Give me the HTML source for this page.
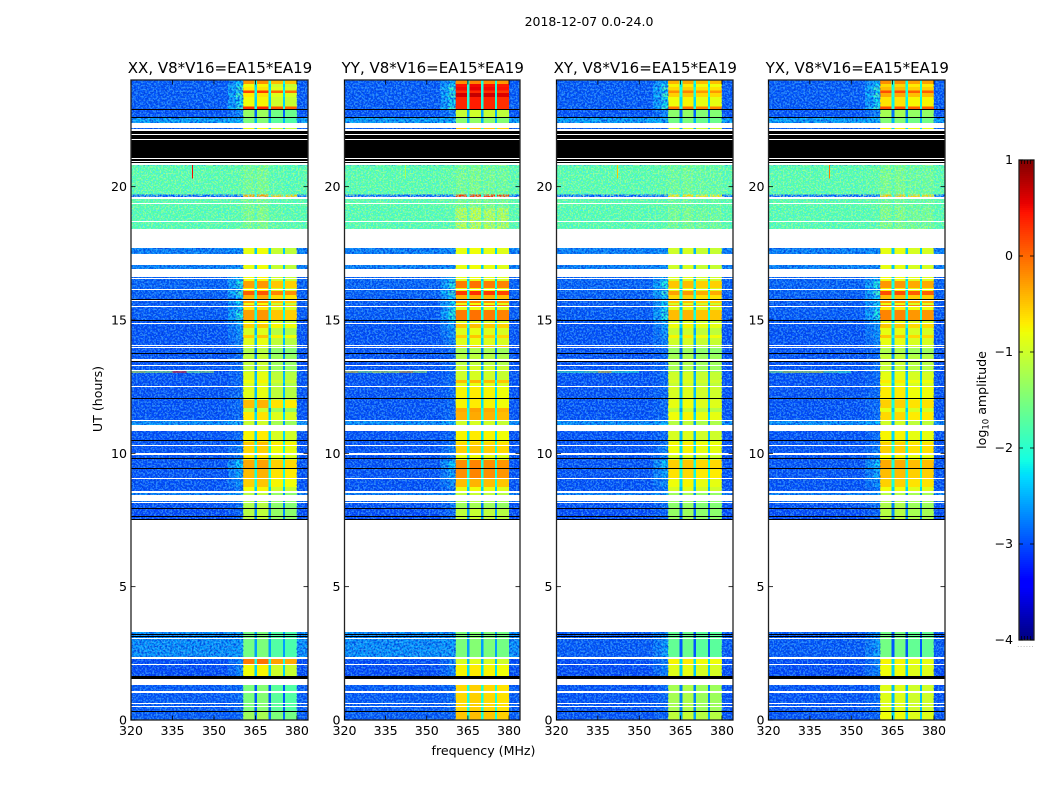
<!DOCTYPE html>
<html lang="en">
<head>
<meta charset="utf-8">
<title>2018-12-07 0.0-24.0</title>
<style>
html,body{margin:0;padding:0;background:#fff;width:1050px;height:800px;overflow:hidden}
svg{display:block;font-family:"DejaVu Sans","Liberation Sans",sans-serif;fill:#000}
</style>
</head>
<body>
<svg id="chart" xmlns="http://www.w3.org/2000/svg" width="1050" height="800" viewBox="0 0 1050 800">
  <defs>
    <filter id="grain" x="0" y="0" width="100%" height="100%">
      <feTurbulence type="fractalNoise" baseFrequency="0.5" numOctaves="2" seed="7"/>
      <feColorMatrix type="matrix" values="0 0 0 0 0  0 0 0 0 0.05  0 0 0 0 0.72  5 0 0 0 -2.1"/>
    </filter>
    <filter id="grain2" x="0" y="0" width="100%" height="100%">
      <feTurbulence type="fractalNoise" baseFrequency="0.55" numOctaves="2" seed="23"/>
      <feColorMatrix type="matrix" values="0 0 0 0 0.1  0 0 0 0 0.6  0 0 0 0 1  0 6 0 0 -2.8"/>
    </filter>
    <filter id="grain3" x="0" y="0" width="100%" height="100%">
      <feTurbulence type="fractalNoise" baseFrequency="0.6" numOctaves="2" seed="41"/>
      <feColorMatrix type="matrix" values="0 0 0 0 0.05  0 0 0 0 0.8  0 0 0 0 1  0 0 6 0 -2.8"/>
    </filter>
    <filter id="grain4" x="0" y="0" width="100%" height="100%">
      <feTurbulence type="fractalNoise" baseFrequency="0.6" numOctaves="2" seed="59"/>
      <feColorMatrix type="matrix" values="0 0 0 0 0.6  0 0 0 0 1  0 0 0 0 0.25  6 0 0 0 -2.9"/>
    </filter>
  </defs>
  <text x="589" y="26" font-size="12.5" text-anchor="middle">2018-12-07 0.0-24.0</text>
  <g id="panels"></g>
  <text x="483.500" y="755" font-size="12.6" text-anchor="middle">frequency (MHz)</text>
  <text x="0" y="0" font-size="12.6" text-anchor="middle" transform="translate(102,399) rotate(-90)">UT (hours)</text>
  <g id="colorbar"></g>
  <text x="0" y="0" font-size="12.6" text-anchor="middle" transform="translate(986,400) rotate(-90)">log<tspan font-size="8.500" dy="2.500">10</tspan><tspan dy="-2.500"> amplitude</tspan></text>
</svg>
<script>
// ---- axis labels ----
const panelTitles = ['XX, V8*V16=EA15*EA19', 'YY, V8*V16=EA15*EA19', 'XY, V8*V16=EA15*EA19', 'YX, V8*V16=EA15*EA19'];
const freqTicks = [320, 335, 350, 365, 380];
const hourTicks = [0, 5, 10, 15, 20];
const colorbarTicks = [1, 0, -1, -2, -3, -4];

// ---- frequency bins (MHz) ----
const binStart = [320, 355, 358, 360.5, 364.6, 365.6, 369.7, 370.6, 374.9, 375.7, 380];
const binEnd   = [355, 358, 360.5, 364.6, 365.6, 369.7, 370.6, 374.9, 375.7, 380, 384];

// ---- time rows (UT hours) ----
const rowStart = [0,0.3,1.31,1.65,2.08,2.36, 7.54,7.91,8.2,8.51,8.74, 9.04,9.41,9.75,9.94,10.27, 10.42,10.87,11.21,11.55,11.7, 12,12.49,12.64,12.75,13.05, 13.31,13.69,13.95,14.06,14.32, 14.44,14.7,14.89,15,15.37, 15.49,15.56,15.64,15.75,15.94, 16.09,16.2,16.46,16.61, 18.41,19.2,19.6,19.7, 22.1,22.38,22.57,22.87,23, 23.36,23.51,23.6,23.73,23.85];
const rowEnd   = [0.3,1.31,1.65,2.08,2.36,3.3, 7.91,8.2,8.51,8.74,9.04, 9.41,9.75,9.94,10.27,10.42, 10.87,11.21,11.55,11.7,12, 12.49,12.64,12.75,13.05,13.31, 13.69,13.95,14.06,14.32,14.44, 14.7,14.89,15,15.37,15.49, 15.56,15.64,15.75,15.94,16.09, 16.2,16.46,16.61,17.7, 19.2,19.6,19.7,20.81, 22.2,22.57,22.87,23,23.36, 23.51,23.6,23.73,23.85,24];

// ---- log10 amplitude per time row ----
const parallelBackground = [-2.95,-2.95,-2.95,-3.05,-3.05,-2.6, -3.05,-3,-2.7,-3,-3, -3,-3,-3,-3,-3, -3,-2.6,-3,-3,-3, -3,-3,-3,-3,-3, -3,-3,-3,-3,-3, -3,-3,-3,-2.95,-2.95, -2.95,-2.95,-2.95,-2.95,-2.9, -2.9,-2.9,-2.9,-2.7, -1.78,-1.75,-3,-1.75, -2.95,-2.5,-3,-2.95,-2.95, -2.95,-2.95,-2.95,-2.95,-2.95];
const crossBackground    = [-3,-3,-3,-3.05,-3.05,-2.95, -3.05,-3,-2.7,-3,-3, -3,-3,-3,-3,-3, -3,-2.6,-3,-3,-3, -3,-3,-3,-3,-3, -3,-3,-3,-3,-3, -3,-3,-3,-2.95,-2.95, -2.95,-2.95,-2.95,-2.95,-2.9, -2.9,-2.9,-2.9,-2.7, -1.78,-1.75,-3,-1.75, -2.95,-2.5,-3,-2.95,-2.95, -2.95,-2.95,-2.95,-2.95,-2.95];
const panelBackground = [parallelBackground, parallelBackground, crossBackground, crossBackground];
const edgeLevel = [-2.9,-2.85,-2.7,-2.7,-2.7,-2.55, -2.9,-2.8,-2.5,-2.8,-2.6, -2.5,-2.3,-2.7,-2.7,-2.8, -2.85,-2.4,-2.85,-2.85,-2.85, -2.85,-2.85,-2.85,-2.85,-2.8, -2.85,-2.85,-2.7,-2.7,-2.6, -2.6,-2.5,-2.5,-2.1,-2.3, -2.1,-2.3,-2.2,-2.3,-1.9, -2.4,-2.1,-2.4,-2.6, -1.75,-1.7,-3,-1.7, -2.9,-2.4,-2.7,-1.95,-2.2, -1.9,-2.3,-1.9,-2.2,-2.4];
const xxLevel = [-1.35,-1.55,-1.4,-0.85,-0.15,-1.6, -1.2,-1.25,-1.2,-0.85,-0.6, -0.5,-0.4,-0.75,-0.65,-0.55, -0.8,-1.1,-0.75,-1.15,-0.5, -0.95,-1,-0.85,-0.95,-1.15, -1.15,-1.25,-1,-0.95,-0.6, -1,-0.6,-0.9,-0.35,-0.75, -0.3,-0.9,-0.35,-0.45,0, -0.8,-0.35,-0.85,-0.9, -1.55,-1.6,-0.3,-1.6, -0.9,-1.55,-1.4,0.25,-0.85, -0.75,0.15,-0.75,-0.85,-0.3];
const yyLevel = [-0.5,-0.6,-0.6,-0.75,-0.95,-1.5, -1.1,-1.3,-1.1,-0.85,-0.45, -0.2,-0.2,-0.85,-0.55,-0.6, -0.75,-1,-0.4,-0.35,-0.75, -0.75,-0.9,-0.45,-1,-1, -1.15,-1.25,-0.45,-0.9,-0.55, -0.9,-0.5,-0.95,-0.1,-0.85, 0,-0.85,-0.2,-0.4,0.25, -0.85,-0.1,-0.9,-0.85, -1.1,-1.5,0.3,-1.55, -0.5,-1.4,-1.05,0.35,0.35, 0.65,0.3,0.5,0.45,-0.2];
const xyLevel = [-1.1,-1.25,-1.2,-0.9,-0.75,-1.65, -1.35,-1.4,-1.3,-0.95,-0.8, -0.65,-0.55,-0.95,-0.8,-0.75, -0.95,-1.15,-0.8,-1.1,-0.85, -0.95,-1.05,-0.95,-1,-1.25, -1.25,-1.35,-1.1,-1,-0.75, -1.05,-0.8,-1,-0.45,-0.9, -0.4,-1,-0.5,-0.6,-0.3, -0.9,-0.5,-0.95,-1, -1.55,-1.65,-0.6,-1.6, -1,-1.55,-1.4,-0.1,-0.8, -0.55,-0.2,-0.6,-0.75,-0.4];
const yxLevel = [-0.85,-0.95,-0.9,-0.85,-0.8,-1.6, -1.2,-1.25,-1.2,-0.85,-0.6, -0.5,-0.4,-0.8,-0.6,-0.6, -0.8,-1.05,-0.65,-0.9,-0.6, -0.75,-0.9,-0.75,-0.9,-1.1, -1.1,-1.25,-0.95,-0.9,-0.55, -0.9,-0.55,-0.9,-0.2,-0.75, -0.1,-0.9,-0.3,-0.5,0.1, -0.8,-0.3,-0.85,-0.9, -1.5,-1.6,-0.5,-1.55, -0.8,-1.5,-1.3,0.1,-0.7, -0.4,0.1,-0.5,-0.65,-0.25];
const panelLevels = [xxLevel, yyLevel, xyLevel, yxLevel];

// ---- spectral-window offsets relative to the row level ----
const xxWindowOffset = [0.05, 0.1, -0.15, -0.2];
const yyWindowOffset = [0, 0.05, 0, -0.05];
const xyWindowOffset = [0, 0.05, -0.05, -0.05];
const yxWindowOffset = [0.05, 0.05, -0.05, -0.05];
const windowOffsets = [xxWindowOffset, yyWindowOffset, xyWindowOffset, yxWindowOffset];
const gapDrop = 1.5;
const gapCeiling = -2.1;

// ---- flagged time ranges (UT hours) ----
const whiteStart = [0.49, 0.6, 1.03, 1.31, 2.06, 2.29, 3.02, 3.3, 8.12, 8.21, 8.53, 9.02, 9.95, 10.29, 10.84, 11.2, 12.5, 13.07, 13.28, 13.48, 13.95, 14.04, 14.87, 15.47, 15.71, 16.14, 16.52, 16.61, 17.06, 17.7, 18.68, 19.37, 19.53, 20.81, 20.92, 21.03, 21.75, 21.93, 22.08, 22.2];
const whiteEnd   = [0.53, 0.64, 1.07, 1.54, 2.1, 2.36, 3.06, 7.54, 8.16, 8.44, 8.57, 9.06, 10, 10.33, 11.08, 11.24, 12.54, 13.11, 13.32, 13.52, 13.99, 14.08, 14.9, 15.51, 15.74, 16.18, 16.56, 16.91, 17.47, 18.41, 18.72, 19.4, 19.6, 20.89, 20.98, 21.07, 21.79, 21.97, 22.16, 22.38];
const blackStart = [0.29, 1.54, 3.1, 3.17, 7.5, 7.6, 7.9, 9.4, 9.78, 10.45, 12.03, 13.41, 13.71, 14.95, 15.74, 20.89, 20.98, 21.07, 21.79, 21.97, 22.56, 22.86];
const blackEnd   = [0.33, 1.65, 3.14, 3.21, 7.55, 7.64, 7.94, 9.44, 9.82, 10.49, 12.07, 13.46, 13.75, 14.99, 15.78, 20.92, 21.03, 21.75, 21.93, 22.08, 22.6, 22.9];

// ---- interference features ----
const rfiHour = 13.05;
const rfiFreq = [320, 325, 330, 335, 340, 345];
const xxRfi = [-0.9, -1.3, -1.2, 0.4, -1.5, -1.2];
const yyRfi = [-0.6, -1.3, -0.9, -1, -0.4, -1.2];
const xyRfi = [-1.8, -1.9, -1.6, -0.6, -1.9, -2];
const yxRfi = [-1.4, -0.9, -1, -0.8, -1.6, -1.9];
const panelRfi = [xxRfi, yyRfi, xyRfi, yxRfi];
const streakFreq = 342;
const streakStart = [20.3, 20.3, 20.3, 20.3];
const streakEnd = [20.81, 20.81, 20.81, 20.81];
const streakLevel = [0.5, -1.2, -0.5, -0.1];

// ---- layout (axes boxes, no data) ----
const panelLeft = [131, 344.5, 556.5, 768.5];
const panelWidth = [177, 175.5, 176.5, 176.5];
const plotTop = 80, plotBottom = 720;
const freqMin = 320, freqMax = 384, hourMin = 0, hourMax = 24;
const cbLeft = 1019, cbRight = 1034, cbTop = 160, cbBottom = 640, cbMin = -4, cbMax = 1;

const NS = 'http://www.w3.org/2000/svg';
function xScale(p, f) { return panelLeft[p] + (f - freqMin) / (freqMax - freqMin) * panelWidth[p]; }
function yScale(h) { return plotBottom - (h - hourMin) / (hourMax - hourMin) * (plotBottom - plotTop); }
function cbScale(v) { return cbBottom - (v - cbMin) / (cbMax - cbMin) * (cbBottom - cbTop); }

function clamp01(x) { return Math.max(0, Math.min(1, x)); }
function lerpStops(t, xs, ys) {
  for (let i = 1; i < xs.length; i++) {
    if (t <= xs[i]) return ys[i - 1] + (ys[i] - ys[i - 1]) * (t - xs[i - 1]) / (xs[i] - xs[i - 1]);
  }
  return ys[ys.length - 1];
}
function jet(v) {
  const t = clamp01((v - cbMin) / (cbMax - cbMin));
  const r = lerpStops(t, [0, 0.35, 0.66, 0.89, 1], [0, 0, 1, 1, 0.5]);
  const g = lerpStops(t, [0, 0.125, 0.375, 0.64, 0.91, 1], [0, 0, 1, 1, 0, 0]);
  const b = lerpStops(t, [0, 0.11, 0.34, 0.65, 1], [0.5, 1, 1, 0, 0]);
  return 'rgb(' + Math.round(r * 255) + ',' + Math.round(g * 255) + ',' + Math.round(b * 255) + ')';
}
function make(tag, parent, attrs, text) {
  const el = document.createElementNS(NS, tag);
  for (const k in attrs) el.setAttribute(k, attrs[k]);
  if (text !== undefined) el.textContent = text;
  parent.appendChild(el);
  return el;
}

const panelsRoot = document.getElementById('panels');
const channelBins = [3, 5, 7, 9];
const gapBins = [4, 6, 8];

panelTitles.forEach(function (title, p) {
  const panel = make('g', panelsRoot, {});
  
  

  const clipId = 'clip' + p;
  const defs = make('clipPath', panel, { id: clipId });
  make('rect', defs, { x: panelLeft[p], y: plotTop, width: panelWidth[p], height: plotBottom - plotTop });

  const cells = make('g', panel, { 'clip-path': 'url(#' + clipId + ')', 'shape-rendering': 'crispEdges' });
  
  

  rowStart.forEach(function (start, r) {
    binStart.forEach(function (f0, b) {
      let value;
      const level = panelLevels[p][r];
      const bg = panelBackground[p][r];
      const chan = channelBins.indexOf(b);
      if (chan >= 0) value = level + windowOffsets[p][chan];
      else if (gapBins.indexOf(b) >= 0) value = Math.max(bg, Math.min(gapCeiling, level - gapDrop));
      else if (b === 1) value = (bg + edgeLevel[r]) / 2;
      else if (b === 2) value = edgeLevel[r];
      else value = bg;
      const x0 = xScale(p, f0), x1 = xScale(p, binEnd[b]);
      const y0 = yScale(rowEnd[r]), y1 = yScale(start);
      const cell = make('rect', cells, { x: x0, y: y0, width: x1 - x0, height: y1 - y0, fill: jet(value) });
      
      
    });
  });

  // fine grain texture (decorative speckle over background regions only)
  const textureLayer = make('g', panel, { 'clip-path': 'url(#' + clipId + ')' });
  
  
  function speckle(f0, f1, h0, h1, filterId, opacity) {
    const r = make('rect', textureLayer, { x: xScale(p, f0), y: yScale(h1), width: xScale(p, f1) - xScale(p, f0), height: yScale(h0) - yScale(h1), filter: 'url(#' + filterId + ')', opacity: opacity });
    
    
  }
  [[0, 18.41], [20.81, 24]].forEach(function (span) {
    speckle(freqMin, 360.5, span[0], span[1], 'grain', 0.85);
    speckle(freqMin, 360.5, span[0], span[1], 'grain2', 0.5);
    speckle(380, freqMax, span[0], span[1], 'grain', 0.85);
    speckle(380, freqMax, span[0], span[1], 'grain2', 0.5);
  });
  speckle(freqMin, freqMax, 18.41, 20.81, 'grain3', 0.75);
  speckle(freqMin, freqMax, 18.41, 20.81, 'grain4', 0.6);

  // interference
  const rfi = make('g', panel, { 'clip-path': 'url(#' + clipId + ')', 'shape-rendering': 'crispEdges' });
  
  
  rfiFreq.forEach(function (f, i) {
    const x0 = xScale(p, f), x1 = xScale(p, f + 5);
    const seg = make('rect', rfi, { x: x0, y: yScale(rfiHour) - 0.5, width: x1 - x0, height: 1, fill: jet(panelRfi[p][i]) });
    
    
  });
  const streak = make('rect', rfi, { x: xScale(p, streakFreq), y: yScale(streakEnd[p]), width: 1, height: yScale(streakStart[p]) - yScale(streakEnd[p]), fill: jet(streakLevel[p]) });
  
  

  // flags
  const flags = make('g', panel, { 'clip-path': 'url(#' + clipId + ')', 'shape-rendering': 'crispEdges' });
  
  
  whiteStart.forEach(function (h, i) {
    const y0 = Math.round(yScale(whiteEnd[i])), y1 = Math.round(yScale(h));
    const band = make('rect', flags, { x: panelLeft[p], y: y0, width: panelWidth[p], height: Math.max(1, y1 - y0), fill: '#fff' });
    
    
  });
  blackStart.forEach(function (h, i) {
    const y0 = Math.round(yScale(blackEnd[i])), y1 = Math.round(yScale(h));
    const band = make('rect', flags, { x: panelLeft[p], y: y0, width: panelWidth[p], height: Math.max(1, y1 - y0), fill: '#000' });
    
    
  });

  // frame
  const frame = make('rect', panel, { x: panelLeft[p], y: plotTop, width: panelWidth[p], height: plotBottom - plotTop, fill: 'none', stroke: '#222', 'stroke-width': 1.3 });
  
  

  // x ticks
  freqTicks.forEach(function (f) {
    const x = xScale(p, f);
    const t1 = make('line', panel, { x1: x, x2: x, y1: plotBottom, y2: plotBottom - 4.5, stroke: '#000', 'stroke-width': 0.8 });
    
    
    const t2 = make('line', panel, { x1: x, x2: x, y1: plotTop, y2: plotTop + 4.5, stroke: '#000', 'stroke-width': 0.8 });
    
    
    const lab = make('text', panel, { x: x, y: 735, 'font-size': 12.6, 'text-anchor': 'middle' }, String(f));
    
    
  });

  // y ticks
  hourTicks.forEach(function (h) {
    const y = yScale(h);
    const t1 = make('line', panel, { x1: panelLeft[p], x2: panelLeft[p] + 4.5, y1: y, y2: y, stroke: '#000', 'stroke-width': 0.8 });
    
    
    const t2 = make('line', panel, { x1: panelLeft[p] + panelWidth[p], x2: panelLeft[p] + panelWidth[p] - 4.5, y1: y, y2: y, stroke: '#000', 'stroke-width': 0.8 });
    
    
    const lab = make('text', panel, { x: panelLeft[p] - 4, y: y + 4.5, 'font-size': 12.6, 'text-anchor': 'end' }, String(h));
    
    
  });

  const ttl = make('text', panel, { x: panelLeft[p] + panelWidth[p] / 2 + 0.5, y: 73, 'font-size': 15, 'text-anchor': 'middle' }, title);
  
  
});

// ---- colorbar ----
const cbRoot = document.getElementById('colorbar');
for (let py = cbTop; py < cbBottom; py += 2) {
  const v = cbMax - (py + 1 - cbTop) / (cbBottom - cbTop) * (cbMax - cbMin);
  const step = make('rect', cbRoot, { x: cbLeft, y: py, width: cbRight - cbLeft, height: 2, fill: jet(v), 'shape-rendering': 'crispEdges' });
  
  
}
const cbFrame = make('rect', cbRoot, { x: cbLeft, y: cbTop, width: cbRight - cbLeft, height: cbBottom - cbTop, fill: 'none', stroke: '#222', 'stroke-width': 1.3 });


colorbarTicks.forEach(function (v) {
  const y = cbScale(v);
  const a = make('line', cbRoot, { x1: cbLeft, x2: cbLeft + 4, y1: y, y2: y, stroke: '#000', 'stroke-width': 0.8 });
  
  
  const b = make('line', cbRoot, { x1: cbRight, x2: cbRight - 4, y1: y, y2: y, stroke: '#000', 'stroke-width': 0.8 });
  
  
  const lab = make('text', cbRoot, { x: 1013, y: y + 4, 'font-size': 12.6, 'text-anchor': 'end' }, v < 0 ? '\u2212' + Math.abs(v) : String(v));
  
  
});
[2.5, 5.5, 8.5, 11.5].forEach(function (dx) {
  const top = make('line', cbRoot, { x1: cbLeft + dx, x2: cbLeft + dx, y1: cbTop, y2: cbTop + 4, stroke: '#000', 'stroke-width': 0.7 });
  
  
  const bottom = make('line', cbRoot, { x1: cbLeft + dx, x2: cbLeft + dx, y1: cbBottom, y2: cbBottom - 4, stroke: '#000', 'stroke-width': 0.7 });
  
  
});
const dots = make('text', cbRoot, { x: 1026, y: 647, 'font-size': 6, 'text-anchor': 'middle', fill: '#777', 'letter-spacing': 1 }, '......');


</script>
</body>
</html>
